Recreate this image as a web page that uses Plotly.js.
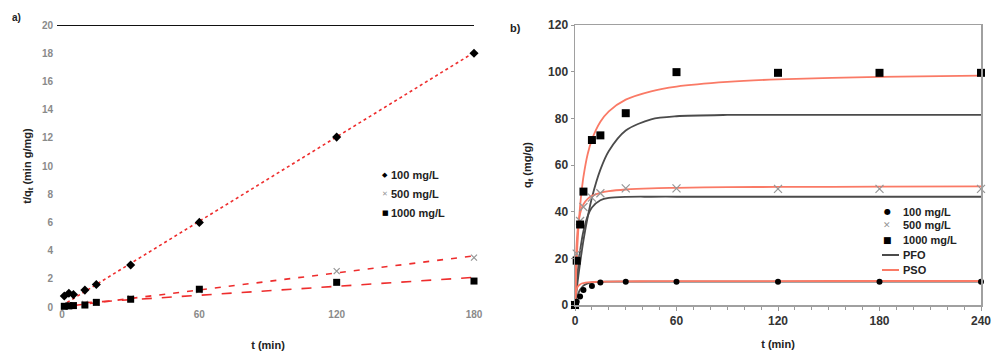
<!DOCTYPE html>
<html>
<head>
<meta charset="utf-8">
<script src="https://cdn.plot.ly/plotly-3.0.1.min.js"></script>
<style>
  html, body { margin: 0; padding: 0; background: #fff; }
  #chart { width: 992px; height: 354px; }
</style>
</head>
<body>
<div id="chart"></div>
<script>
// ---- (a) linearised pseudo-second-order plot: t/qt versus t ----
const tLin = [1, 3, 5, 10, 15, 30, 60, 120, 180];
const tq100 = [0.78, 0.97, 0.88, 1.2, 1.6, 2.98, 6.0, 12.05, 18.0];
const tq500 = [0.04, 0.08, 0.12, 0.22, 0.31, 0.6, 1.2, 2.55, 3.5];
const tq1000 = [0.05, 0.08, 0.1, 0.14, 0.33, 0.55, 1.26, 1.75, 1.84];

// linear trend lines (end points)
const fitT = [0, 180];
const fit100 = [0.1, 18.05];
const fit500 = [0.0, 3.63];
const fit1000 = [0.2, 2.1];

// ---- (b) uptake qt versus t ----
const tKin = [0, 1, 3, 5, 10, 15, 30, 60, 120, 180, 240];
const q100 = [0, 1.4, 3.6, 6.4, 8.1, 9.6, 10.0, 10.0, 10.0, 10.0, 10.0];
const q500 = [0, 22, 36, 42, 46, 47.9, 50.0, 50.0, 49.8, 49.8, 49.8];
const q1000 = [0, 19, 34.5, 48.6, 70.7, 72.7, 82.2, 99.8, 99.5, 99.5, 99.5];

// fitted model curves
const tModel = [0, 1, 2, 3, 4, 5, 7.5, 10, 15, 20, 30, 45, 60, 90, 120, 180, 240];
const pfo100 = [0, 2.95, 5.0, 6.5, 7.5, 8.3, 9.3, 9.7, 9.95, 10.0, 10.0, 10.0, 10.0, 10.0, 10.0, 10.0, 10.0];
const pso100 = [0, 6.9, 8.2, 8.8, 9.2, 9.4, 9.7, 9.8, 10.0, 10.05, 10.13, 10.2, 10.2, 10.25, 10.27, 10.28, 10.29];
const pfo500 = [0, 9.5, 17.1, 23.1, 27.9, 31.7, 38.1, 41.8, 44.9, 45.9, 46.35, 46.4, 46.4, 46.4, 46.4, 46.4, 46.4];
const pso500 = [0, 26.7, 35.1, 39.1, 41.6, 43.2, 45.5, 46.75, 48.1, 48.8, 49.5, 50.0, 50.2, 50.5, 50.6, 50.7, 50.8];
const pfo1000 = [0, 6.5, 12.5, 17.9, 23.0, 27.7, 37.7, 46.0, 58.0, 66.0, 74.8, 79.6, 80.9, 81.45, 81.5, 81.5, 81.5];
const pso1000 = [0, 19.6, 32.8, 42.3, 49.4, 55.0, 64.7, 70.9, 78.5, 83.0, 88.0, 91.6, 93.6, 95.6, 96.7, 97.8, 98.3];

const legendLabels = ['100 mg/L', '500 mg/L', '1000 mg/L'];
const modelLabels = ['PFO', 'PSO'];

const RED = 'rgb(238,45,45)';
const SALMON = 'rgb(250,122,102)';
const DARK = 'rgb(75,75,75)';
const GREY_X = 'rgb(150,150,150)';
const FONT = 'Liberation Sans, Arial, sans-serif';

const traces = [];

// (a) trend lines
traces.push({x: fitT, y: fit100, xaxis: 'x', yaxis: 'y', mode: 'lines',
  line: {color: RED, width: 1.6, dash: 'dot'}, hoverinfo: 'skip'});
traces.push({x: fitT, y: fit500, xaxis: 'x', yaxis: 'y', mode: 'lines',
  line: {color: RED, width: 1.6, dash: '6px,8px'}, hoverinfo: 'skip'});
traces.push({x: fitT, y: fit1000, xaxis: 'x', yaxis: 'y', mode: 'lines',
  line: {color: RED, width: 1.6, dash: '10px,10px'}, hoverinfo: 'skip'});
// (a) data
traces.push({x: tLin, y: tq500, xaxis: 'x', yaxis: 'y', mode: 'markers', name: legendLabels[1],
  marker: {symbol: 'x-thin-open', size: 6, color: GREY_X, line: {width: 1.2, color: GREY_X}}, cliponaxis: false});
traces.push({x: tLin, y: tq1000, xaxis: 'x', yaxis: 'y', mode: 'markers', name: legendLabels[2],
  marker: {symbol: 'square', size: 7, color: '#000'}, cliponaxis: false});
traces.push({x: tLin, y: tq100, xaxis: 'x', yaxis: 'y', mode: 'markers', name: legendLabels[0],
  marker: {symbol: 'diamond', size: 7, color: '#000'}, cliponaxis: false});

// (b) model curves
const curve = (y, color) => ({x: tModel, y: y, xaxis: 'x2', yaxis: 'y2', mode: 'lines',
  line: {color: color, width: 1.8, shape: 'spline', smoothing: 0.8}, hoverinfo: 'skip'});
traces.push(curve(pfo1000, DARK), curve(pfo500, DARK), curve(pfo100, DARK));
traces.push(curve(pso1000, SALMON), curve(pso500, SALMON), curve(pso100, SALMON));
// (b) data
traces.push({x: tKin, y: q500, xaxis: 'x2', yaxis: 'y2', mode: 'markers', name: legendLabels[1],
  marker: {symbol: 'x-thin-open', size: 8, color: GREY_X, line: {width: 1.2, color: GREY_X}}, cliponaxis: false});
traces.push({x: tKin, y: q1000, xaxis: 'x2', yaxis: 'y2', mode: 'markers', name: legendLabels[2],
  marker: {symbol: 'square', size: 8, color: '#000'}, cliponaxis: false});
traces.push({x: tKin, y: q100, xaxis: 'x2', yaxis: 'y2', mode: 'markers', name: legendLabels[0],
  marker: {symbol: 'circle', size: 6, color: '#000'}, cliponaxis: false});

traces.forEach(t => { t.showlegend = false; });

// hand-placed legends (compact row spacing)
const annotations = [];
const shapes = [];
const px = v => v / 992;
const py = v => 1 - v / 354;

function legendRow(xGlyph, xText, yPix, glyph, glyphColor, glyphSize, label, size) {
  if (glyph) {
    annotations.push({xref: 'paper', yref: 'paper', x: px(xGlyph), y: py(yPix),
      text: glyph, showarrow: false, xanchor: 'center', yanchor: 'middle',
      font: {family: 'DejaVu Sans', size: glyphSize, color: glyphColor}});
  }
  annotations.push({xref: 'paper', yref: 'paper', x: px(xText), y: py(yPix),
    text: label, showarrow: false, xanchor: 'left', yanchor: 'middle',
    font: {family: FONT, size: size, color: '#222', weight: 700}});
}
// (a) legend
legendRow(385, 389, 175, '\u25C6', '#000', 7, legendLabels[0], 11);
legendRow(385, 389, 194, '\u2715', GREY_X, 7, legendLabels[1], 11);
legendRow(385, 389, 213, '\u25A0', '#000', 7, legendLabels[2], 11);
// (b) legend
legendRow(887, 901, 211.5, '\u25CF', '#000', 8, legendLabels[0], 11);
legendRow(887, 901, 225, '\u2715', GREY_X, 9, legendLabels[1], 11);
legendRow(887, 901, 240, '\u25A0', '#000', 9, legendLabels[2], 11);
legendRow(0, 901, 255, null, null, 0, modelLabels[0], 11);
legendRow(0, 901, 270, null, null, 0, modelLabels[1], 11);
shapes.push({type: 'line', xref: 'paper', yref: 'paper', x0: px(882), x1: px(899), y0: py(255), y1: py(255),
  line: {color: DARK, width: 2}});
shapes.push({type: 'line', xref: 'paper', yref: 'paper', x0: px(882), x1: px(899), y0: py(270), y1: py(270),
  line: {color: SALMON, width: 2}});

// heavy top rule of panel (a)
shapes.push({type: 'line', xref: 'paper', yref: 'y', x0: px(57), x1: px(474), y0: 20, y1: 20,
  line: {color: '#111', width: 2}});

// panel letters
annotations.push({xref: 'paper', yref: 'paper', x: px(10), y: py(18), text: 'a)', showarrow: false,
  xanchor: 'left', yanchor: 'middle', font: {family: FONT, size: 10, color: '#222', weight: 700}});
annotations.push({xref: 'paper', yref: 'paper', x: px(508), y: py(28), text: 'b)', showarrow: false,
  xanchor: 'left', yanchor: 'middle', font: {family: FONT, size: 11, color: '#222', weight: 700}});

const layout = {
  width: 992, height: 354,
  margin: {l: 0, r: 0, t: 0, b: 0},
  paper_bgcolor: '#fff', plot_bgcolor: 'rgba(0,0,0,0)',
  showlegend: false,
  font: {family: FONT, color: '#222'},
  xaxis: {
    domain: [px(62), px(474)], anchor: 'y', range: [0, 180],
    tickvals: [0, 60, 120, 180], ticks: '', showline: false, showgrid: false, zeroline: false,
    tickfont: {family: FONT, size: 10, color: '#8a8a8a', weight: 700},
    title: {text: 't (min)', standoff: 22, font: {family: FONT, size: 11, color: '#222', weight: 700}}
  },
  yaxis: {
    domain: [py(307), py(25)], anchor: 'x', range: [0, 20],
    tickvals: [0, 2, 4, 6, 8, 10, 12, 14, 16, 18, 20], ticks: '', showline: false, showgrid: false, zeroline: false,
    ticklabelstandoff: 8,
    tickfont: {family: FONT, size: 10, color: '#8a8a8a', weight: 700},
    title: {text: 't/q<sub>t</sub> (min g/mg)', standoff: 8, font: {family: FONT, size: 11, color: '#222', weight: 700}}
  },
  xaxis2: {
    domain: [px(575), px(981)], anchor: 'y2', range: [0, 240],
    tickvals: [0, 60, 120, 180, 240], ticks: 'outside', ticklen: 4, tickcolor: '#999',
    minor: {dtick: 10, ticks: 'outside', ticklen: 3, tickcolor: '#999'},
    showline: true, linecolor: '#a0a0a0', linewidth: 1.5, mirror: true, showgrid: false, zeroline: false,
    tickfont: {family: FONT, size: 12, color: '#333', weight: 700},
    title: {text: 't (min)', standoff: 13, font: {family: FONT, size: 11, color: '#222', weight: 700}}
  },
  yaxis2: {
    domain: [py(305), py(25)], anchor: 'x2', range: [0, 120],
    tickvals: [0, 20, 40, 60, 80, 100, 120], ticks: 'outside', ticklen: 3, tickcolor: '#999',
    showline: true, linecolor: '#a0a0a0', linewidth: 1.5, mirror: true, showgrid: false, zeroline: false,
    tickfont: {family: FONT, size: 12, color: '#333', weight: 700},
    title: {text: 'q<sub>t</sub> (mg/g)', standoff: 14, font: {family: FONT, size: 11, color: '#222', weight: 700}}
  },
  shapes: shapes,
  annotations: annotations
};

Plotly.newPlot('chart', traces, layout, {displayModeBar: false, staticPlot: true});
</script>
</body>
</html>
